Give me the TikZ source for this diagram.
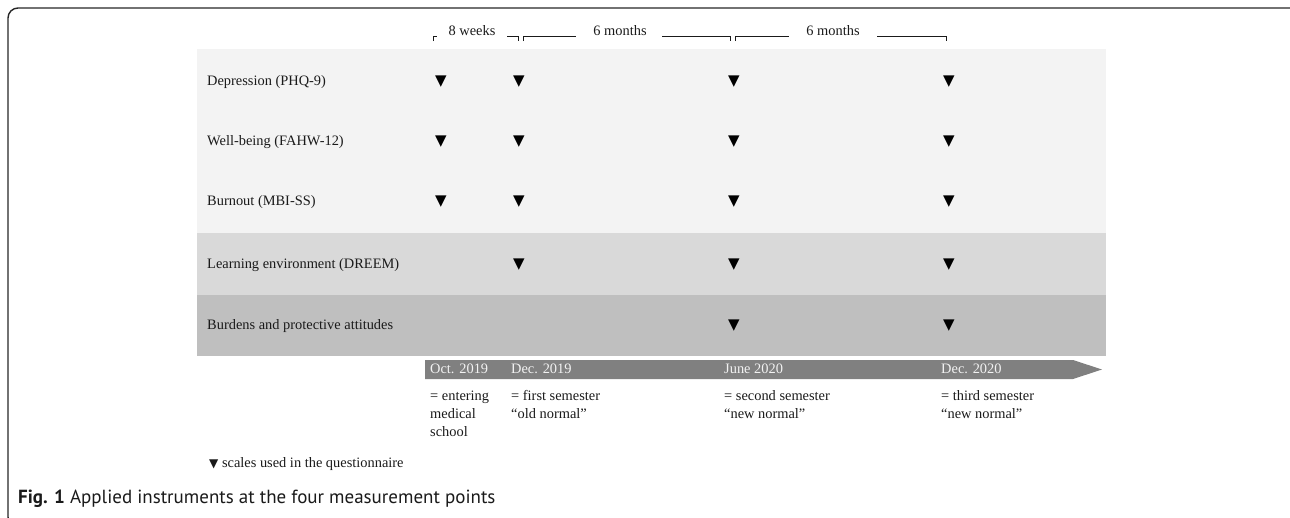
\documentclass[tikz,border=0pt]{standalone}
\usepackage{fontspec}
\setmainfont{Liberation Serif}
\newfontfamily\capfont{PT Sans}
\newfontfamily\symfont{DejaVu Sans}
\definecolor{bandA}{HTML}{F3F3F3}
\definecolor{bandB}{HTML}{D9D9D9}
\definecolor{bandC}{HTML}{BFBFBF}
\definecolor{arrowgrey}{HTML}{808080}
\definecolor{arrowtext}{HTML}{F2F2F2}
\definecolor{txt}{HTML}{1A1A1A}
\tikzset{
  lbl/.style={anchor=west, inner sep=0pt, text=txt, font=\fontsize{14.4}{17}\selectfont, text height=10pt, text depth=3pt},
  tl/.style={lbl, text=arrowtext},
  tri/.style={inner sep=0pt, font=\symfont\fontsize{15}{15}\selectfont},
  brk/.style={line width=0.7pt, draw=txt},
  frame/.style={line width=1.4pt, draw=black!85, rounded corners=10pt},
}
\begin{document}
\begin{tikzpicture}[x=1pt,y=-1pt]
\useasboundingbox (0,0) rectangle (1290,517);
\begin{scope}
\clip (0,0) rectangle (1290,517);
\draw[frame] (1300,8) -- (8,8) -- (8,527) -- (60,527);
\end{scope}
% bands
\fill[bandA] (197,49) rectangle (1106,233);
\fill[bandB] (197,233) rectangle (1106,295);
\fill[bandC] (197,295) rectangle (1106,356);
% row labels
\node[lbl] (dep) at (207,82) {Depression (PHQ-9)};
\node[lbl] (well) at (207,142) {Well-being (FAHW-12)};
\node[lbl] (burn) at (207,202) {Burnout (MBI-SS)};
\node[lbl] (learn) at (207,265) {Learning environment (DREEM)};
\node[lbl] (burd) at (207,326) {Burdens and protective attitudes};
% markers
\foreach \r/\y in {a/82,b/142,c/202}{
  \node[tri] (m\r1) at (441,\y) {▼};
  \node[tri] (m\r2) at (519,\y) {▼};
  \node[tri] (m\r3) at (734,\y) {▼};
  \node[tri] (m\r4) at (949,\y) {▼};
}
\node[tri] (md2) at (519,265) {▼};
\node[tri] (md3) at (734,265) {▼};
\node[tri] (md4) at (949,265) {▼};
\node[tri] (me3) at (734,326) {▼};
\node[tri] (me4) at (949,326) {▼};
% timeline arrow
\fill[arrowgrey] (425,360) -- (1073,360) -- (1102,369.5) -- (1073,379) -- (425,379) -- cycle;
\node[tl] (d1) at (430,369.5) {Oct. 2019};
\node[tl] (d2) at (511,369.5) {Dec. 2019};
\node[tl] (d3) at (724,369.5) {June 2020};
\node[tl] (d4) at (941,369.5) {Dec. 2020};
% descriptions
\node[lbl] (e1a) at (430,397) {= entering};
\node[lbl] (e1b) at (430,415) {medical};
\node[lbl] (e1c) at (430,433) {school};
\node[lbl] (e2a) at (511,397) {= first semester};
\node[lbl] (e2b) at (511,415) {“old normal”};
\node[lbl] (e3a) at (724,397) {= second semester};
\node[lbl] (e3b) at (724,415) {“new normal”};
\node[lbl] (e4a) at (941,397) {= third semester};
\node[lbl] (e4b) at (941,415) {“new normal”};
% top brackets
\node[lbl, anchor=center] (w8) at (472,32) {8 weeks};
\node[lbl, anchor=center] (m6a) at (620,32) {6 months};
\node[lbl, anchor=center] (m6b) at (833,32) {6 months};
\draw[brk] (433,41) -- (433,36) -- (437,36);
\draw[brk] (507,36) -- (518,36) -- (518,41);
\draw[brk] (523,41) -- (523,36) -- (576,36);
\draw[brk] (662,36) -- (730,36) -- (730,41);
\draw[brk] (735,41) -- (735,36) -- (789,36);
\draw[brk] (877,36) -- (946,36) -- (946,41);
% legend
\node[lbl] (leg) at (209,464) {{\symfont\fontsize{12}{12}\selectfont ▼}\ scales used in the questionnaire};
% caption
\node[anchor=west, inner sep=0pt, text=txt, font=\capfont\fontsize{19}{22}\selectfont] (cap) at (18,499) {\textbf{Fig. 1} Applied instruments at the four measurement points};
\end{tikzpicture}
\end{document}
